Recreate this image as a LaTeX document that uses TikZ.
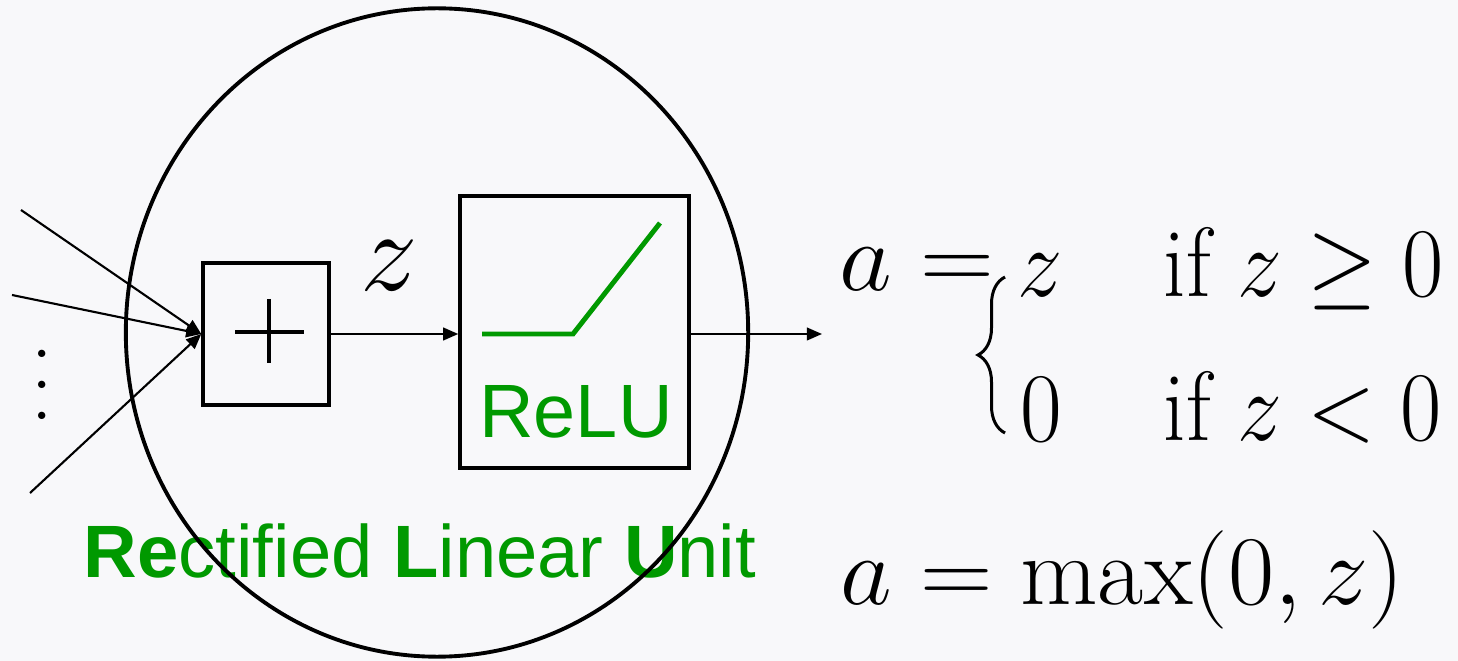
\RequirePackage{fix-cm}
\documentclass[tikz,border=0pt]{standalone}
\usepackage{fontspec}
\newfontfamily\arialfont{Liberation Sans}
\usepackage{graphicx}
\usetikzlibrary{arrows.meta,calc,decorations.pathreplacing}

\definecolor{bgcol}{RGB}{248,248,250}
\definecolor{relugreen}{RGB}{0,153,0}

\begin{document}
\begin{tikzpicture}[
    x=0.01cm, y=-0.01cm,
    every node/.style={inner sep=0pt},
    blockbox/.style={draw, line width=0.95pt},
    wire/.style={line width=0.6pt, -{Triangle[length=4.3pt,width=3.6pt]}},
    greentext/.style={text=relugreen, font=\fontsize{21.5}{26}\selectfont\arialfont},
    eqtext/.style={anchor=base west, font=\fontsize{28}{34}\selectfont},
]

% Page size and background
\fill[bgcol] (0,0) rectangle (1458,661);
\useasboundingbox (0,0) rectangle (1458,661);

% --- Summation block ---
\node[blockbox, minimum width=1.26cm, minimum height=1.42cm] (sum) at (266,334) {};
\draw[line width=1.1pt] ($(sum.center)+(-31,-2)$) -- ($(sum.center)+(38,-2)$);
\draw[line width=1.1pt] ($(sum.center)+(3,-35)$) -- ($(sum.center)+(3,29)$);

% --- ReLU block ---
\node[blockbox, minimum width=2.29cm, minimum height=2.72cm] (relu) at (574.5,332) {};
\draw[relugreen, line width=1.4pt] (482,334) -- (573,334) -- (660,223);
\node[greentext, anchor=base] (relulabel) at (576,437) {ReLU};

% --- Inputs ---
\coordinate (in1) at (21,210);
\coordinate (in2) at (12,295);
\coordinate (in3) at (30,493);
\draw[wire] (in1) -- (sum.west);
\draw[wire] (in2) -- (sum.west);
\draw[wire] (in3) -- (sum.west);
\node[rotate=90, anchor=base, font=\fontsize{19.7}{24}\selectfont] (dots) at (59.5,385) {$\cdots$};

% --- Weighted sum to activation to output ---
\draw[wire] (sum.east) -- (sum.east -| relu.west);
\node[font=\fontsize{32.7}{39}\selectfont, anchor=base] (zlabel) at (389,291) {$z$};
\coordinate (aout) at (822,334);
\draw[wire] (relu.east |- aout) -- (aout);

% --- Name of the unit ---
\node[greentext, font=\fontsize{21.1}{26}\selectfont\arialfont, anchor=base] (fullname) at (420,577)
    {\textbf{Re}ctified \textbf{L}inear \textbf{U}nit};

% --- Neuron outline ---
\draw[line width=1.1pt] (437,332.5) ellipse [x radius=3.11cm, y radius=3.24cm];

% --- Piecewise definition ---
\node[eqtext] (aeq) at (839,291) {\scalebox{1.04}[1]{$a=$}};
\draw[line width=0.85pt, decorate, decoration={brace, amplitude=0.27cm}]
    (1005,433) -- (1005,277);
\node[eqtext] (casez) at (1017,297) {\scalebox{0.92}[1]{$z$}};
\node[eqtext] (casezero) at (1020,441) {\scalebox{0.92}[1]{$0$}};
\node[eqtext] (condpos) at (1163,297) {\scalebox{0.91}[1]{if $z\geq 0$}};
\node[eqtext] (condneg) at (1163,440) {\scalebox{0.91}[1]{if $z<0$}};

% --- Compact form ---
\node[eqtext] (maxeq) at (840,604) {\scalebox{1.02}[1]{$a=\max(0,z)$}};

\end{tikzpicture}
\end{document}
